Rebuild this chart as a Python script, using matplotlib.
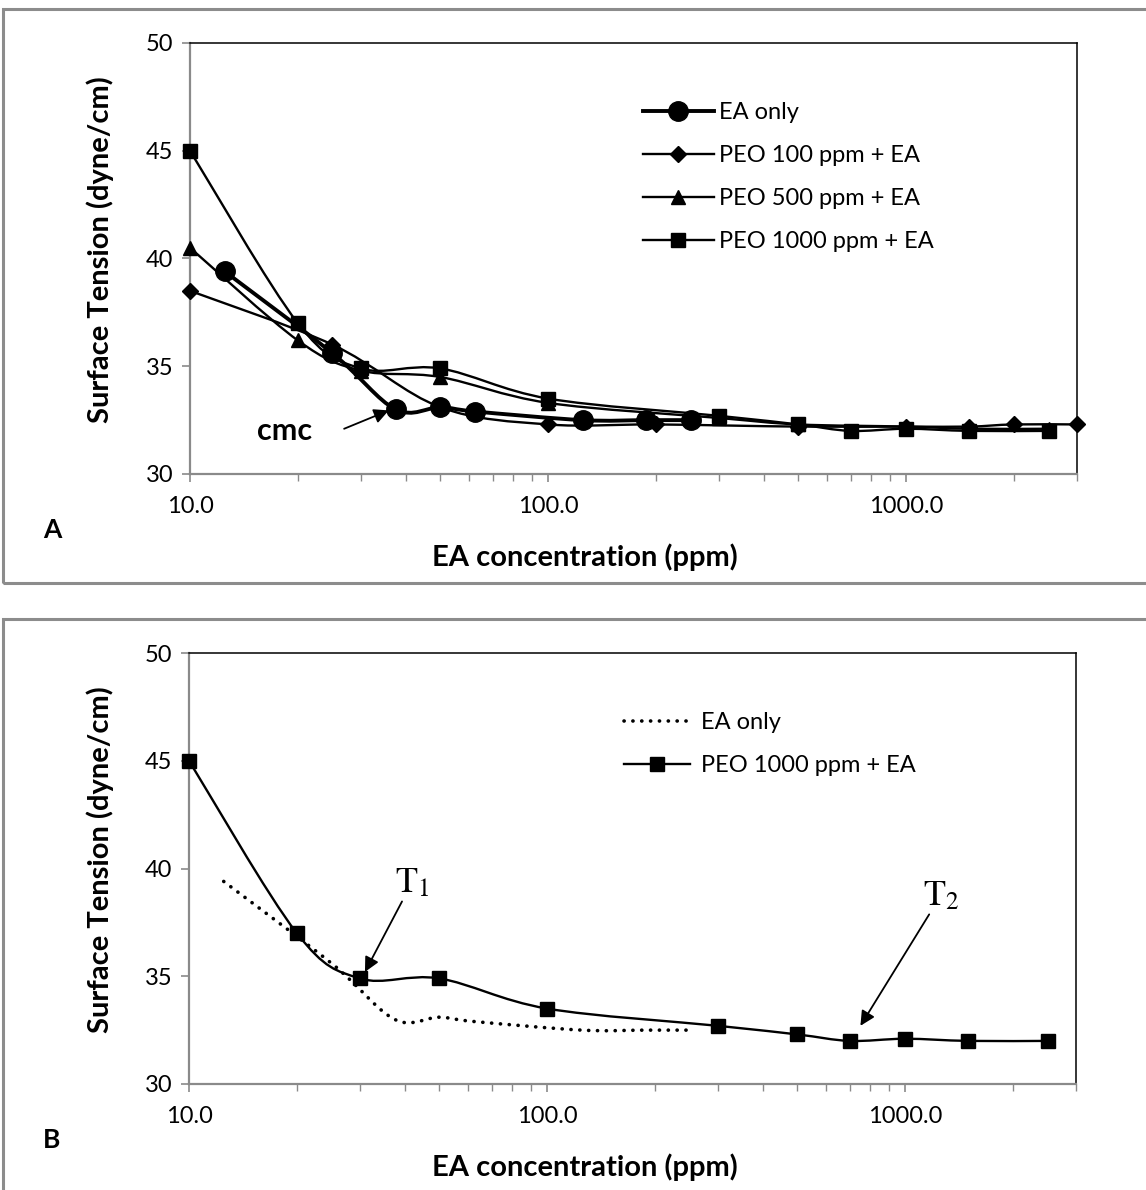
import numpy as np
import matplotlib
matplotlib.use("Agg")
import matplotlib.pyplot as plt
from matplotlib.path import Path
from matplotlib.patches import PathPatch, Rectangle
from matplotlib.lines import Line2D

plt.rcParams['font.family'] = ['Lato', 'DejaVu Sans']
plt.rcParams['mathtext.fontset'] = 'stix'

# --- datos ---
ea_x = [12.5, 25, 37.5, 50, 62.5, 125, 187.5, 250]
ea_y = [39.4, 35.6, 33.0, 33.1, 32.9, 32.5, 32.5, 32.5]

peo100_x = [10, 25, 50, 100, 200, 500, 1000, 1500, 2000, 3000]
peo100_y = [38.5, 36.0, 33.1, 32.3, 32.3, 32.2, 32.2, 32.2, 32.3, 32.3]

peo500_x = [10, 20, 30, 50, 100, 300, 500, 1000, 1500, 2500]
peo500_y = [40.5, 36.2, 34.8, 34.5, 33.3, 32.6, 32.3, 32.2, 32.1, 32.1]

peo1000_x = [10, 20, 30, 50, 100, 300, 500, 700, 1000, 1500, 2500]
peo1000_y = [45.0, 37.0, 34.9, 34.9, 33.5, 32.7, 32.3, 32.0, 32.1, 32.0, 32.0]

y_ticks = [30, 35, 40, 45, 50]
x_ticks = [10, 100, 1000]
x_tick_labels = ['10.0', '100.0', '1000.0']

W, H = 1146, 1190


def curva_suave(xs, ys):
    # Curva suavizada tipo Excel (Catmull-Rom -> Bezier) en espacio log(x)
    pts = np.column_stack([np.log10(xs), ys])
    n = len(pts)
    verts = [pts[0]]
    codes = [Path.MOVETO]
    for i in range(n - 1):
        p0 = pts[max(i - 1, 0)]
        p1 = pts[i]
        p2 = pts[i + 1]
        p3 = pts[min(i + 2, n - 1)]
        verts += [p1 + (p2 - p0) / 6, p2 - (p3 - p1) / 6, p2]
        codes += [Path.CURVE4] * 3
    verts = np.array(verts)
    verts[:, 0] = 10 ** verts[:, 0]
    return Path(verts, codes)


def serie(ax, xs, ys, marker, ms, lw, ls='-'):
    ax.add_patch(PathPatch(curva_suave(xs, ys), fill=False, ec='black',
                           lw=lw, ls=ls, capstyle='round', zorder=2))
    if marker:
        ax.plot(xs, ys, ls='none', marker=marker, ms=ms, color='black',
                zorder=3, clip_on=False)


def preparar_ejes(ax, letra, dy):
    ax.set_xscale('log')
    ax.set_xlim(10, 3000)
    ax.set_ylim(30, 50)
    ax.set_yticks(y_ticks)
    ax.set_xticks(x_ticks)
    ax.set_xticklabels(x_tick_labels)
    ax.xaxis.set_minor_locator(matplotlib.ticker.LogLocator(base=10, subs=np.arange(2, 10)))
    ax.xaxis.set_minor_formatter(matplotlib.ticker.NullFormatter())
    for lado in ['left', 'bottom']:
        ax.spines[lado].set_color('#8a8a8a')
        ax.spines[lado].set_linewidth(1.6)
    for lado in ['top', 'right']:
        ax.spines[lado].set_color('black')
        ax.spines[lado].set_linewidth(1.1)
    ax.tick_params(axis='both', which='major', length=6, width=1.2, color='#8a8a8a',
                   labelsize=17, pad=6)
    ax.tick_params(axis='x', which='minor', length=5, width=1.0, color='#8a8a8a')
    ax.tick_params(axis='x', which='major', pad=10)
    fig.text(100 / W, 1 - (250 + dy) / H, 'Surface Tension (dyne/cm)', fontsize=21,
             fontweight='bold', rotation=90, ha='center', va='center')
    fig.text(585 / W, 1 - (557 + dy) / H, 'EA concentration (ppm)', fontsize=21,
             fontweight='bold', ha='center', va='center')
    fig.text(52 / W, 1 - (530 + dy) / H, letra, fontsize=19, fontweight='bold',
             ha='center', va='center')


fig = plt.figure(figsize=(W / 100, H / 100), dpi=100)

# marcos grises de cada panel
fig.add_artist(Rectangle((3 / W, 1 - 583 / H), 1.2, (583 - 9) / H, transform=fig.transFigure,
                         fill=False, ec='#8c8c8c', lw=2.2))
fig.add_artist(Rectangle((3 / W, -0.2), 1.2, 0.2 + (1190 - 619) / H, transform=fig.transFigure,
                         fill=False, ec='#8c8c8c', lw=2.2))

# ---------------- Panel A ----------------
axA = fig.add_axes([190 / W, 1 - 474 / H, 887 / W, 431 / H])
serie(axA, peo100_x, peo100_y, 'D', 8.5, 1.7)
serie(axA, peo500_x, peo500_y, '^', 10.5, 1.7)
serie(axA, peo1000_x, peo1000_y, 's', 10.5, 1.7)
serie(axA, ea_x, ea_y, 'o', 14, 2.8)
preparar_ejes(axA, 'A', 0)

handlesA = [
    Line2D([], [], color='k', lw=2.8, marker='o', ms=14),
    Line2D([], [], color='k', lw=1.7, marker='D', ms=8.5),
    Line2D([], [], color='k', lw=1.7, marker='^', ms=10.5),
    Line2D([], [], color='k', lw=1.7, marker='s', ms=10.5),
]
axA.legend(handlesA, ['EA only', 'PEO 100 ppm + EA', 'PEO 500 ppm + EA', 'PEO 1000 ppm + EA'],
           loc='upper left', bbox_to_anchor=(643 / W, 1 - 102 / H), bbox_transform=fig.transFigure,
           frameon=False, fontsize=17, handlelength=3.0, handletextpad=0.2,
           labelspacing=0.93, borderpad=0, borderaxespad=0)

axA.text(285, 32.0, 'cmc', fontsize=22, fontweight='bold', ha='center', va='center',
         transform=matplotlib.transforms.blended_transform_factory(
             matplotlib.transforms.IdentityTransform(), axA.transData))
axA.annotate('', xy=(36.5, 33.0), xytext=(26.5, 32.05),
             arrowprops=dict(arrowstyle='-|>', color='black', lw=1.3, mutation_scale=22))

# ---------------- Panel B ----------------
axB = fig.add_axes([189 / W, 1 - 1084 / H, 887 / W, 431 / H])
serie(axB, ea_x, ea_y, None, 0, 2.6, ls=(0, (0.05, 2.4)))
serie(axB, peo1000_x, peo1000_y, 's', 10.5, 1.7)
preparar_ejes(axB, 'B', 610)

handlesB = [
    Line2D([], [], color='k', lw=2.6, ls=(0, (0.05, 2.4)), dash_capstyle='round'),
    Line2D([], [], color='k', lw=1.7, marker='s', ms=10.5),
]
axB.legend(handlesB, ['EA only', 'PEO 1000 ppm + EA'],
           loc='upper left', bbox_to_anchor=(624 / W, 1 - 712 / H), bbox_transform=fig.transFigure,
           frameon=False, fontsize=17, handlelength=2.8, handletextpad=0.45,
           labelspacing=0.93, borderpad=0, borderaxespad=0)

axB.annotate(r'$\mathrm{T}_1$', xy=(31, 35.2), xytext=(42, 38.6), fontsize=26,
             ha='center', va='bottom',
             arrowprops=dict(arrowstyle='-|>', color='black', lw=1.3, mutation_scale=22,
                             shrinkA=0, shrinkB=0))
axB.annotate(r'$\mathrm{T}_2$', xy=(750, 32.7), xytext=(1260, 38.0), fontsize=26,
             ha='center', va='bottom',
             arrowprops=dict(arrowstyle='-|>', color='black', lw=1.3, mutation_scale=22,
                             shrinkA=0, shrinkB=0))

fig.savefig('out.png', dpi=100)
